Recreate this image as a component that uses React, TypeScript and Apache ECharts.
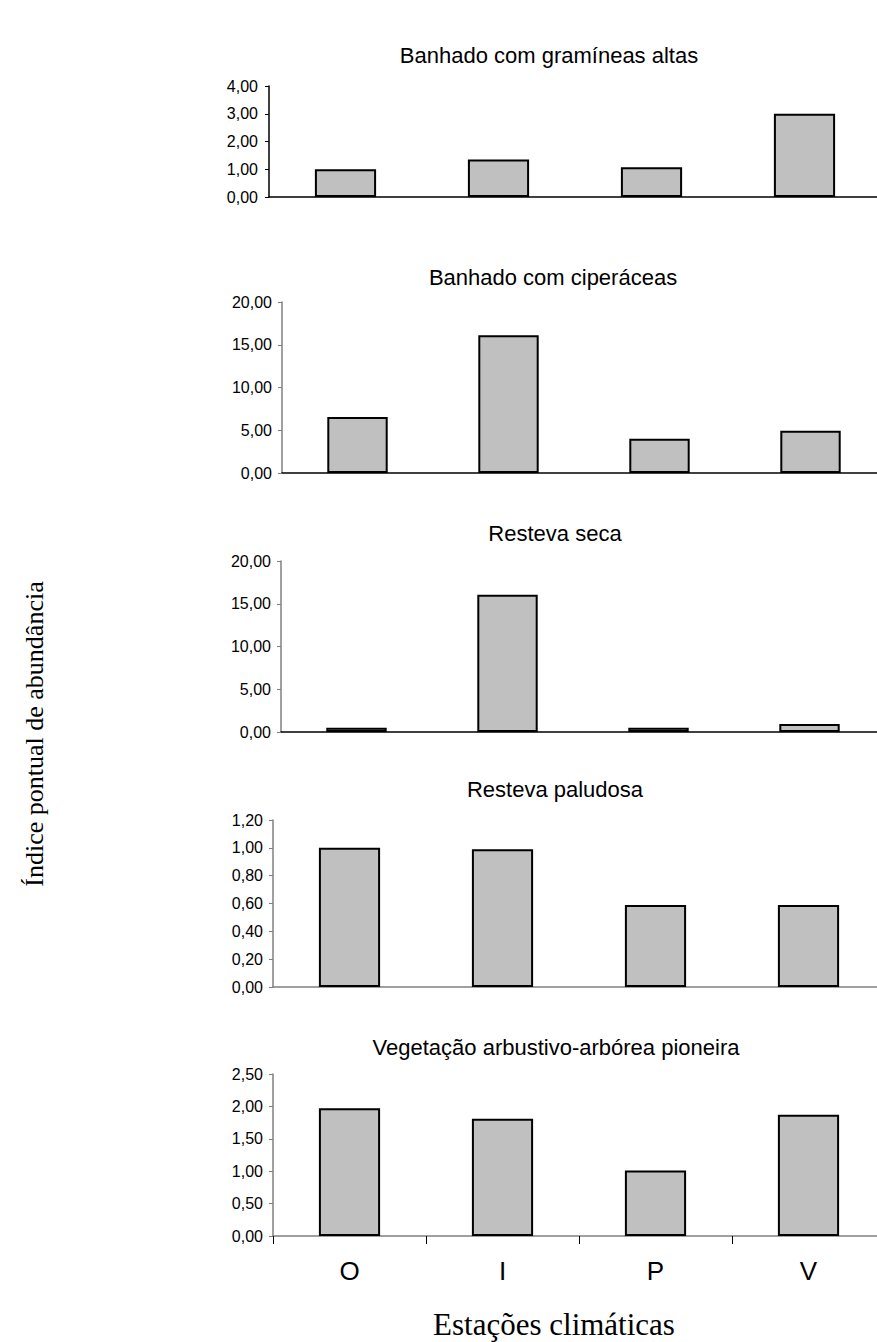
import React, { useEffect, useRef } from "react";
import * as echarts from "echarts";

const categories = ["O", "I", "P", "V"];
const panelTitles = [
  "Banhado com gramíneas altas",
  "Banhado com ciperáceas",
  "Resteva seca",
  "Resteva paludosa",
  "Vegetação arbustivo-arbórea pioneira",
];
const gramineasAltas = [1.0, 1.35, 1.07, 3.0];
const ciperaceas = [6.55, 16.1, 4.0, 4.95];
const restevaSeca = [0.5, 16.05, 0.5, 0.95];
const restevaPaludosa = [1.0, 0.99, 0.59, 0.59];
const vegetacaoPioneira = [1.97, 1.81, 1.01, 1.87];
const seriesValues = [gramineasAltas, ciperaceas, restevaSeca, restevaPaludosa, vegetacaoPioneira];
const yMax = [4, 20, 20, 1.2, 2.5];
const yStep = [1, 5, 5, 0.2, 0.5];
const xAxisTitle = "Estações climáticas";
const yAxisTitle = "Índice pontual de abundância";

// layout (pixels)
const panels = [
  { left: 269, top: 86, bottom: 197, width: 612, titleY: 55, titleX: 549, yLine: "#000", xLine: "#000", labelMargin: 11 },
  { left: 282, top: 302, bottom: 473, width: 604, titleY: 277, titleX: 553, yLine: "#808080", xLine: "#000", labelMargin: 10 },
  { left: 281, top: 561, bottom: 732, width: 604, titleY: 533, titleX: 555, yLine: "#808080", xLine: "#000", labelMargin: 10 },
  { left: 273, top: 820, bottom: 987, width: 612, titleY: 789, titleX: 555, yLine: "#808080", xLine: "#808080", labelMargin: 10 },
  { left: 273, top: 1074, bottom: 1236, width: 612, titleY: 1047, titleX: 556, yLine: "#808080", xLine: "#808080", labelMargin: 10 },
];

const SANS = "'Liberation Sans', Arial, sans-serif";
const SERIF = "'Liberation Serif', 'Times New Roman', serif";

export default function App() {
  const ref = useRef<HTMLDivElement>(null);
  useEffect(() => {
    if (!ref.current) return;
    const chart = echarts.init(ref.current, null, { renderer: "svg" });
    const last = panels.length - 1;
    const option: any = {
      animation: false,
      backgroundColor: "#fff",
      grid: panels.map((p) => ({
        left: p.left,
        top: p.top,
        width: p.width,
        height: p.bottom - p.top,
        containLabel: false,
      })),
      xAxis: panels.map((p, i) => ({
        type: "category",
        gridIndex: i,
        data: categories,
        boundaryGap: true,
        axisLine: { show: true, lineStyle: { color: p.xLine, width: 1.5 } },
        axisTick: { show: i === last, length: 8, inside: false, lineStyle: { color: "#000" } },
        axisLabel: {
          show: i === last,
          margin: 22,
          fontSize: 26,
          fontFamily: SANS,
          color: "#000",
        },
        splitLine: { show: false },
      })),
      yAxis: panels.map((p, i) => ({
        type: "value",
        gridIndex: i,
        min: 0,
        max: yMax[i],
        interval: yStep[i],
        axisLine: { show: true, lineStyle: { color: p.yLine, width: 1.5 } },
        axisTick: { show: true, length: 4, lineStyle: { color: p.yLine } },
        axisLabel: {
          margin: p.labelMargin,
          fontSize: 16,
          fontFamily: SANS,
          color: "#000",
          formatter: (v: number) => v.toFixed(2).replace(".", ","),
        },
        splitLine: { show: false },
      })),
      series: seriesValues.map((vals, i) => ({
        type: "bar",
        xAxisIndex: i,
        yAxisIndex: i,
        data: vals,
        barWidth: "40%",
        itemStyle: { color: "#C0C0C0", borderColor: "#000", borderWidth: 2 },
      })),
      graphic: [
        ...panels.map((p, i) => ({
          type: "text",
          x: p.titleX,
          y: p.titleY,
          style: {
            text: panelTitles[i],
            fontSize: 22,
            fontFamily: SANS,
            fill: "#000",
            align: "center",
            verticalAlign: "middle",
          },
        })),
        {
          type: "text",
          x: 554,
          y: 1324,
          style: {
            text: xAxisTitle,
            fontSize: 31,
            fontFamily: SERIF,
            fill: "#000",
            align: "center",
            verticalAlign: "middle",
          },
        },
        {
          type: "text",
          x: 34,
          y: 734,
          rotation: Math.PI / 2,
          style: {
            text: yAxisTitle,
            fontSize: 26,
            fontFamily: SERIF,
            fill: "#000",
            align: "center",
            verticalAlign: "middle",
          },
        },
      ],
    };
    chart.setOption(option);
    return () => chart.dispose();
  }, []);
  return (
    <div
      style={{
        position: "fixed",
        left: 0,
        top: 0,
        width: 877,
        height: 1342,
        overflow: "hidden",
        background: "#fff",
      }}
    >
      <div ref={ref} style={{ width: 900, height: 1342 }} />
    </div>
  );
}
